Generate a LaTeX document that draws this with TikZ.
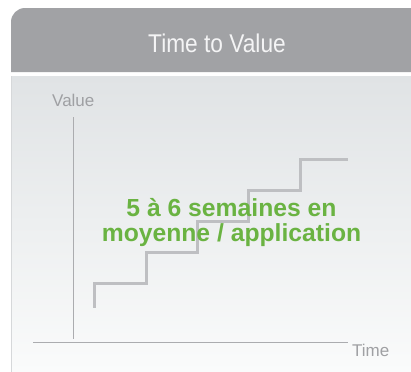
\documentclass[tikz,border=0pt]{standalone}
\usepackage{fontspec}
\setmainfont{Liberation Sans}
\definecolor{headgray}{HTML}{A1A2A5}
\definecolor{titlewhite}{HTML}{F4F4F5}
\definecolor{bodytop}{HTML}{E0E3E5}
\definecolor{bodybottom}{HTML}{FAFBFB}
\definecolor{bodyedge}{HTML}{D6D8DA}
\definecolor{axisgray}{HTML}{ABACAF}
\definecolor{labelgray}{HTML}{9FA0A3}
\definecolor{stepgray}{HTML}{BEBFC2}
\definecolor{leafgreen}{HTML}{6AB342}
\begin{document}
\begin{tikzpicture}[x=1bp,y=-1bp,
  axisline/.style={draw=axisgray,line width=1.3bp},
  axislabel/.style={text=labelgray,inner sep=0pt,font=\fontsize{17bp}{20bp}\selectfont},
  stairline/.style={draw=stepgray,line width=3bp},
  greentext/.style={text=leafgreen,inner sep=0pt,anchor=base,font=\bfseries\fontsize{24.7bp}{28bp}\selectfont}]
\useasboundingbox (0,0) rectangle (411,372);
\fill[white] (0,0) rectangle (411,372);
% header band with rounded upper-left corner
\fill[headgray] (11,72) -- (11,22) arc[start angle=180,end angle=270,radius=14] -- (411,8) -- (411,72) -- cycle;
\node[text=titlewhite,inner sep=0pt,anchor=base,font=\fontsize{22.7bp}{27bp}\selectfont] (title) at (217,52) {\scalebox{1}[1.13]{Time to Value}};
% chart panel
\shade[top color=bodytop,bottom color=bodybottom] (11,76) rectangle (411,372);
\draw[bodyedge,line width=1bp] (11.5,76) -- (11.5,372);
% axes
\coordinate (ytop) at (73.3,117);
\coordinate (ybot) at (73.3,339);
\coordinate (xleft) at (33,342.3);
\coordinate (xright) at (347.7,342.3);
\draw[axisline] (ytop) -- (ybot);
\draw[axisline] (xleft) -- (xright);
\node[axislabel,anchor=base] (vlabel) at (73.3,106.5) {Value};
\node[axislabel,anchor=base west] (tlabel) at (352,356.5) {Time};
% staircase
\coordinate (s0) at (94.5,307.5);
\coordinate (s1) at (94.5,283);
\coordinate (s2) at (146,283);
\coordinate (s3) at (146,252);
\coordinate (s4) at (197.5,252);
\coordinate (s5) at (197.5,221);
\coordinate (s6) at (248.5,221);
\coordinate (s7) at (248.5,190);
\coordinate (s8) at (300,190);
\coordinate (s9) at (300,159);
\coordinate (s10) at (347.7,159);
\draw[stairline,line join=miter] (s0) -- (s1) -- (s2) -- (s3) -- (s4) -- (s5) -- (s6) -- (s7) -- (s8) -- (s9) -- (s10);
% message
\node[greentext] (msgA) at (231.5,216) {5 à 6 semaines en};
\node[greentext] (msgB) at (231.5,241.7) {moyenne / application};
\end{tikzpicture}
\end{document}
